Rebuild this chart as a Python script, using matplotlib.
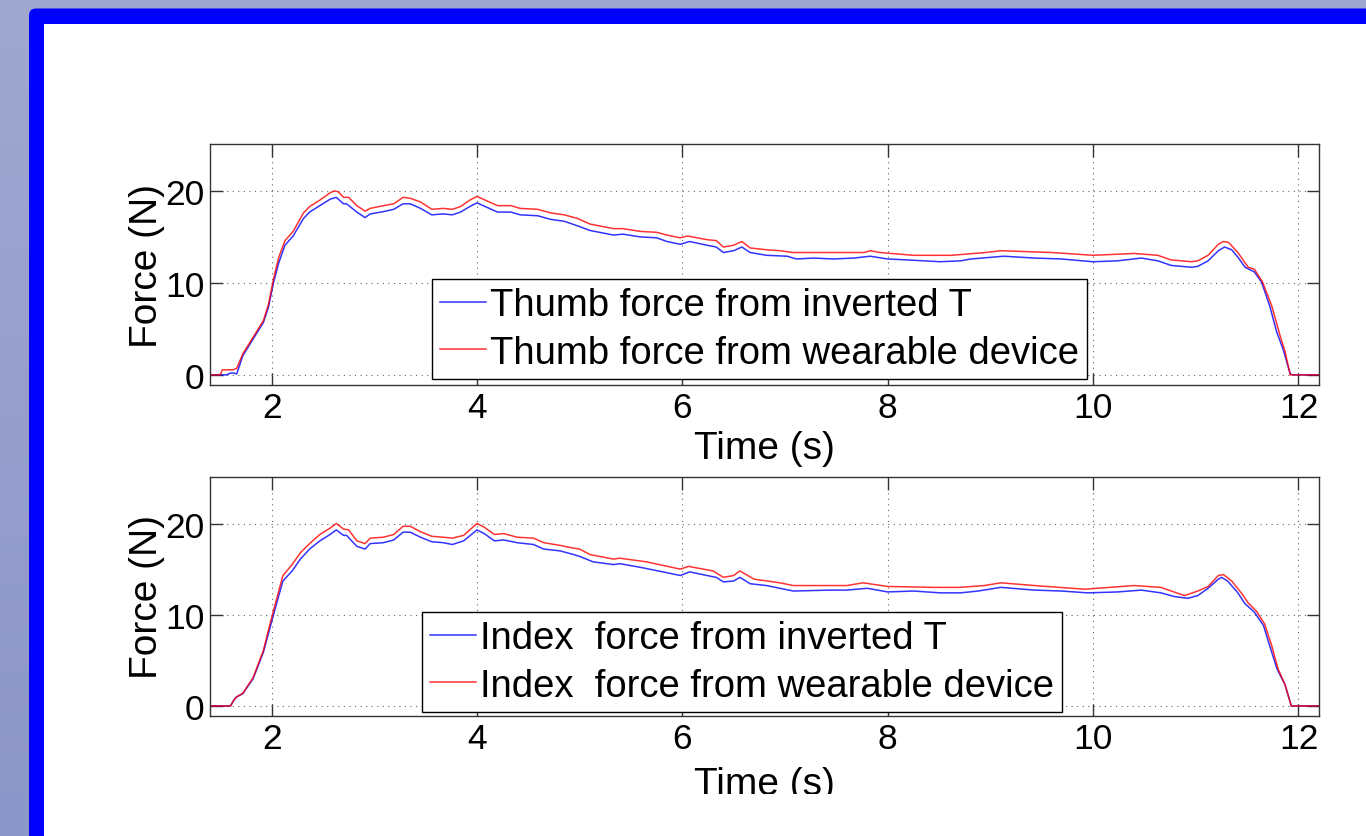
import numpy as np
import matplotlib
matplotlib.use("Agg")
import matplotlib.pyplot as plt
from matplotlib.patches import FancyBboxPatch, Rectangle
from matplotlib.transforms import Bbox, TransformedBbox

plt.rcParams['font.family'] = ['Liberation Sans', 'DejaVu Sans']

# ---------------- data (time s, force N) ----------------
thumb_inverted_t = [
    (1.40, 0.0), (1.56, 0.0), (1.60, 0.2), (1.63, 0.2), (1.66, 0.1), (1.72, 2.1), (1.82, 3.9),
    (1.92, 5.7), (1.97, 7.4), (2.02, 10.1), (2.07, 12.2), (2.13, 14.1), (2.21, 15.1), (2.31, 17.0),
    (2.37, 17.7), (2.47, 18.4), (2.57, 19.1), (2.63, 19.3), (2.70, 18.6), (2.73, 18.6), (2.83, 17.7),
    (2.91, 17.1), (2.96, 17.5), (3.09, 17.75), (3.19, 18.0), (3.28, 18.6), (3.35, 18.6), (3.45, 18.1),
    (3.56, 17.4), (3.67, 17.5), (3.76, 17.4), (3.84, 17.7), (3.93, 18.3), (4.00, 18.7), (4.10, 18.2),
    (4.20, 17.7), (4.33, 17.7), (4.42, 17.4), (4.59, 17.3), (4.72, 16.9), (4.85, 16.7), (4.98, 16.2),
    (5.10, 15.7), (5.33, 15.2), (5.42, 15.3), (5.59, 15.0), (5.75, 14.9), (5.85, 14.5), (5.98, 14.2),
    (6.07, 14.5), (6.24, 14.1), (6.33, 13.9), (6.40, 13.3), (6.50, 13.5), (6.58, 13.9), (6.66, 13.3),
    (6.82, 13.0), (7.02, 12.9), (7.11, 12.6), (7.28, 12.7), (7.47, 12.6), (7.67, 12.7), (7.83, 12.9),
    (8.00, 12.6), (8.19, 12.5), (8.51, 12.3), (8.71, 12.4), (8.81, 12.6), (9.13, 12.9), (9.43, 12.7),
    (9.69, 12.6), (10.00, 12.3), (10.24, 12.4), (10.47, 12.7), (10.63, 12.4), (10.76, 11.9),
    (10.96, 11.7), (11.02, 11.8), (11.12, 12.4), (11.22, 13.5), (11.28, 13.9), (11.35, 13.6),
    (11.41, 12.8), (11.48, 11.7), (11.57, 11.2), (11.64, 10.1), (11.72, 7.5), (11.79, 4.6),
    (11.85, 2.8), (11.92, 0.1), (11.95, 0.0), (12.22, 0.0),
]

thumb_wearable = [
    (1.40, 0.0), (1.50, 0.0), (1.52, 0.55), (1.62, 0.55), (1.66, 0.7), (1.72, 2.3), (1.82, 4.1),
    (1.92, 5.9), (1.97, 7.7), (2.02, 10.5), (2.07, 12.8), (2.13, 14.6), (2.21, 15.6), (2.31, 17.6),
    (2.37, 18.3), (2.47, 19.0), (2.57, 19.8), (2.61, 20.0), (2.65, 19.9), (2.70, 19.3), (2.75, 19.3),
    (2.83, 18.4), (2.91, 17.8), (2.96, 18.1), (3.09, 18.4), (3.19, 18.6), (3.28, 19.3), (3.35, 19.2),
    (3.45, 18.8), (3.56, 18.0), (3.67, 18.1), (3.76, 18.0), (3.84, 18.3), (3.93, 19.0), (4.00, 19.4),
    (4.10, 18.9), (4.20, 18.4), (4.33, 18.4), (4.42, 18.1), (4.59, 18.0), (4.72, 17.6), (4.85, 17.4),
    (4.98, 17.0), (5.10, 16.4), (5.33, 15.9), (5.42, 15.9), (5.59, 15.6), (5.75, 15.5), (5.85, 15.2),
    (5.98, 14.9), (6.05, 15.1), (6.24, 14.7), (6.33, 14.6), (6.40, 13.9), (6.50, 14.1), (6.58, 14.5),
    (6.66, 13.8), (6.82, 13.6), (6.95, 13.5), (7.08, 13.3), (7.50, 13.3), (7.77, 13.3), (7.83, 13.5),
    (7.93, 13.3), (8.25, 13.0), (8.62, 13.0), (8.95, 13.3), (9.10, 13.5), (9.60, 13.3), (10.00, 13.0),
    (10.40, 13.2), (10.63, 13.0), (10.76, 12.5), (10.96, 12.3), (11.02, 12.4), (11.12, 13.0),
    (11.22, 14.2), (11.27, 14.5), (11.32, 14.4), (11.41, 13.3), (11.51, 11.7), (11.57, 11.5),
    (11.65, 10.1), (11.74, 7.5), (11.82, 4.3), (11.87, 2.5), (11.92, 0.0), (12.22, 0.0),
]

index_inverted_t = [
    (1.40, 0.0), (1.60, 0.0), (1.63, 0.6), (1.66, 1.0), (1.72, 1.35), (1.82, 3.0), (1.92, 5.9),
    (1.98, 8.4), (2.05, 11.3), (2.11, 13.7), (2.20, 14.8), (2.28, 16.1), (2.37, 17.2), (2.47, 18.1),
    (2.57, 18.8), (2.63, 19.3), (2.70, 18.7), (2.73, 18.7), (2.83, 17.5), (2.91, 17.2), (2.96, 17.8),
    (3.09, 17.9), (3.19, 18.2), (3.28, 19.05), (3.35, 19.05), (3.45, 18.5), (3.56, 18.0), (3.67, 17.9),
    (3.76, 17.7), (3.87, 18.1), (4.00, 19.3), (4.07, 18.9), (4.17, 18.1), (4.26, 18.2), (4.39, 17.9),
    (4.55, 17.7), (4.65, 17.2), (4.81, 17.0), (4.94, 16.6), (5.00, 16.4), (5.13, 15.8), (5.33, 15.5),
    (5.39, 15.6), (5.59, 15.2), (5.81, 14.7), (5.98, 14.3), (6.07, 14.7), (6.24, 14.3), (6.33, 14.1),
    (6.40, 13.6), (6.50, 13.7), (6.56, 14.1), (6.66, 13.4), (6.82, 13.2), (7.08, 12.6), (7.44, 12.7),
    (7.60, 12.7), (7.80, 12.9), (8.00, 12.5), (8.25, 12.6), (8.51, 12.4), (8.71, 12.4), (8.88, 12.6),
    (9.10, 13.0), (9.43, 12.7), (9.69, 12.6), (9.95, 12.4), (10.24, 12.5), (10.47, 12.7), (10.66, 12.4),
    (10.79, 12.0), (10.92, 11.8), (11.02, 12.1), (11.12, 12.9), (11.22, 13.9), (11.25, 14.1),
    (11.31, 13.7), (11.41, 12.4), (11.48, 11.2), (11.57, 10.3), (11.66, 8.8), (11.72, 6.6),
    (11.79, 4.1), (11.87, 2.3), (11.93, 0.0), (12.22, 0.0),
]

index_wearable = [
    (1.40, 0.0), (1.60, 0.0), (1.63, 0.6), (1.66, 1.0), (1.72, 1.4), (1.82, 3.1), (1.92, 6.1),
    (1.98, 8.8), (2.05, 11.8), (2.11, 14.3), (2.20, 15.5), (2.28, 16.8), (2.37, 17.8), (2.47, 18.8),
    (2.57, 19.5), (2.63, 20.0), (2.70, 19.4), (2.75, 19.3), (2.83, 18.1), (2.91, 17.8), (2.96, 18.4),
    (3.09, 18.5), (3.19, 18.8), (3.28, 19.7), (3.35, 19.7), (3.45, 19.1), (3.56, 18.6), (3.67, 18.5),
    (3.76, 18.4), (3.87, 18.7), (4.00, 20.0), (4.07, 19.6), (4.17, 18.8), (4.26, 18.9), (4.39, 18.5),
    (4.55, 18.4), (4.65, 17.9), (4.81, 17.6), (4.94, 17.3), (5.00, 17.2), (5.10, 16.6), (5.33, 16.1),
    (5.39, 16.2), (5.65, 15.8), (5.98, 15.0), (6.06, 15.3), (6.30, 14.8), (6.40, 14.1), (6.50, 14.3),
    (6.56, 14.8), (6.70, 13.9), (6.95, 13.5), (7.08, 13.2), (7.60, 13.2), (7.76, 13.5), (8.00, 13.1),
    (8.45, 13.0), (8.70, 13.0), (8.94, 13.2), (9.10, 13.5), (9.43, 13.2), (9.92, 12.8), (10.40, 13.2),
    (10.66, 13.0), (10.89, 12.1), (11.02, 12.6), (11.12, 13.1), (11.22, 14.3), (11.27, 14.4),
    (11.35, 13.7), (11.45, 12.3), (11.51, 11.3), (11.59, 10.4), (11.67, 9.0), (11.74, 6.6),
    (11.80, 4.1), (11.87, 2.3), (11.93, 0.0), (12.22, 0.0),
]

top_labels = ["Thumb force from inverted T", "Thumb force from wearable device"]
bottom_labels = ["Index  force from inverted T", "Index  force from wearable device"]
x_ticks = [2, 4, 6, 8, 10, 12]
y_ticks = [0, 10, 20]
x_label = "Time (s)"
y_label = "Force (N)"

# ---------------- figure ----------------
W, H = 1366, 837
fig = plt.figure(figsize=(W / 100, H / 100), dpi=100)

# slide background
bg = fig.add_axes([0, 0, 1, 1], zorder=-10)
grad = np.linspace(0, 1, 256)[:, None]
top_c = np.array([160, 168, 208]) / 255
bot_c = np.array([140, 150, 200]) / 255
img = top_c[None, None, :] * (1 - grad[:, :, None]) + bot_c[None, None, :] * grad[:, :, None]
bg.imshow(img, extent=[0, W, H, 0], aspect='auto')
bg.add_patch(FancyBboxPatch((29, 9.5), 1600, 1000, boxstyle="round,pad=0,rounding_size=7",
                            fc='#0000ff', ec='none'))
bg.add_patch(Rectangle((43.5, 24.5), 1600, 1000, fc='white', ec='none'))
bg.set_xlim(0, W)
bg.set_ylim(H, 0)
bg.axis('off')

TICK_FS = 25.5
LABEL_FS = 28
LEG_FS = 27.5


def px_rect(x0, y0, x1, y1):
    return [x0 / W, 1 - y1 / H, (x1 - x0) / W, (y1 - y0) / H]


def style_axes(ax):
    ax.set_xlim(1.4, 12.2)
    ax.set_ylim(-1.1, 25.1)
    ax.set_xticks(x_ticks)
    ax.set_yticks(y_ticks)
    ax.grid(True, linestyle=(0, (1, 4)), color='#666666', linewidth=0.8)
    ax.tick_params(direction='in', top=True, right=True, length=9, width=1.0,
                   labelsize=TICK_FS, pad=4, color='#333333')
    for s in ax.spines.values():
        s.set_color('#333333')
        s.set_linewidth(1.0)
    ax.set_ylabel(y_label, fontsize=LABEL_FS, labelpad=0)


def draw(ax, blue, red, labels, leg_xy):
    bt, bf = zip(*blue)
    rt, rf = zip(*red)
    l1, = ax.plot(bt, bf, color='#0000ff', lw=1.1, alpha=0.8)
    l2, = ax.plot(rt, rf, color='#ff0000', lw=1.1, alpha=0.8)
    leg = ax.legend([l1, l2], labels, loc='lower left',
                    bbox_to_anchor=(leg_xy[0] / W, 1 - leg_xy[1] / H),
                    bbox_transform=fig.transFigure, borderaxespad=0,
                    fancybox=False, edgecolor='black', framealpha=1,
                    fontsize=LEG_FS, handlelength=1.2, handletextpad=0.1,
                    borderpad=0.22, labelspacing=0.3)
    leg.get_frame().set_linewidth(1.0)


ax1 = fig.add_axes(px_rect(210, 145, 1319, 386))
style_axes(ax1)
draw(ax1, thumb_inverted_t, thumb_wearable, top_labels, (432, 380))
ax1.set_xlabel(x_label, fontsize=LABEL_FS, labelpad=5)

ax2 = fig.add_axes(px_rect(210, 478, 1319, 717))
style_axes(ax2)
draw(ax2, index_inverted_t, index_wearable, bottom_labels, (422, 713))
xl = ax2.set_xlabel(x_label, fontsize=LABEL_FS, labelpad=8)
clip = TransformedBbox(Bbox([[0, (H - 795) / H], [1, 1]]), fig.transFigure)
xl.set_clip_box(clip)
xl.set_clip_on(True)

fig.savefig("out.png", dpi=100)
